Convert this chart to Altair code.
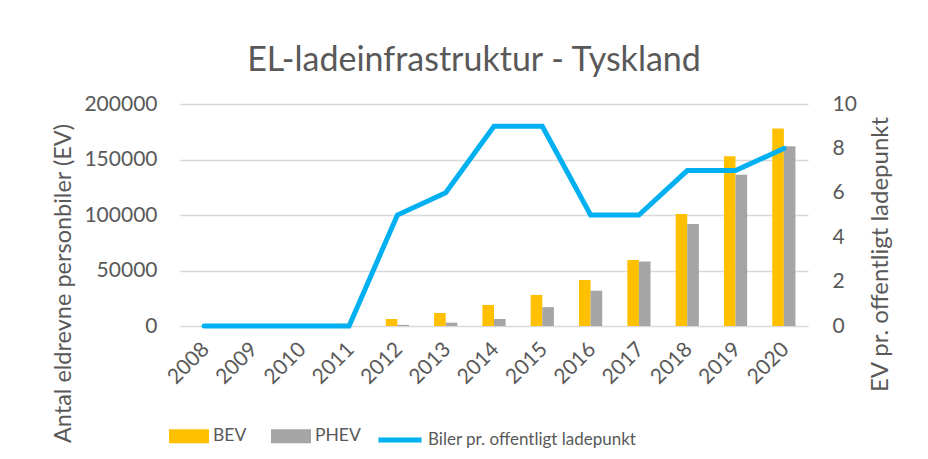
import altair as alt
import pandas as pd

years = ["2008", "2009", "2010", "2011", "2012", "2013", "2014",
         "2015", "2016", "2017", "2018", "2019", "2020"]
bev = [0, 0, 0, 2000, 6300, 11700, 19000, 28000, 41400, 59500, 101000, 152900, 178000]
phev = [0, 0, 0, 0, 1000, 3000, 6300, 17000, 31800, 58000, 92000, 136300, 162000]
per_point = [0, 0, 0, 0, 5, 6, 9, 9, 5, 5, 7, 7, 8]

series_names = ["BEV", "PHEV"]
line_name = "Biler pr. offentligt ladepunkt"
left_ticks = [0, 50000, 100000, 150000, 200000]
right_ticks = [0, 2, 4, 6, 8, 10]

bars_df = pd.DataFrame({
    "year": years * 2,
    "series": ["BEV"] * len(years) + ["PHEV"] * len(years),
    "value": bev + phev,
})
line_df = pd.DataFrame({"year": years, "ratio": per_point, "series": line_name})

FONT = "Lato"
TXT = "#595959"

x_enc = alt.X(
    "year:N", sort=years,
    scale=alt.Scale(paddingInner=0.52, paddingOuter=0.26),
    axis=alt.Axis(title=None, labelAngle=-45, labelAlign="right", labelBaseline="middle",
                  labelPadding=20, labelOffset=2, domain=False, ticks=False, labelFontSize=21,
                  labelColor=TXT, labelFont=FONT),
)

bars = alt.Chart(bars_df).mark_bar().encode(
    x=x_enc,
    xOffset=alt.XOffset("series:N", sort=series_names,
                        scale=alt.Scale(paddingInner=0, paddingOuter=0)),
    y=alt.Y("value:Q", scale=alt.Scale(domain=[0, 200000]),
            axis=alt.Axis(title="Antal  eldrevne personbiler (EV)", values=left_ticks, format="d",
                          grid=True, gridColor="#D9D9D9", gridWidth=1.5, domain=False, ticks=False,
                          labelPadding=23, labelFontSize=21, labelColor=TXT, labelFont=FONT,
                          titleFont=FONT, titleFontSize=23.5, titleColor=TXT, titleFontWeight="normal",
                          titleAngle=270, titleX=-117, titleY=179, titleAlign="center",
                          titleBaseline="middle")),
    color=alt.Color("series:N", sort=series_names,
                    scale=alt.Scale(domain=series_names, range=["#FFC000", "#A5A5A5"]),
                    legend=alt.Legend(title=None, orient="none", legendX=-11, legendY=312,
                                      direction="horizontal",
                                      symbolType="M-1,-0.35L1,-0.35L1,0.35L-1,0.35Z",
                                      symbolSize=1600, symbolStrokeWidth=0, labelOffset=4,
                                      columnPadding=24, labelFont=FONT, labelFontSize=17.5,
                                      labelColor=TXT)),
)

line = alt.Chart(line_df).mark_line(strokeWidth=5, strokeCap="round").encode(
    x=x_enc,
    y=alt.Y("ratio:Q", scale=alt.Scale(domain=[0, 10]),
            axis=alt.Axis(orient="right", title="EV pr. offentligt ladepunkt", values=right_ticks,
                          grid=False, domain=False, ticks=False, labelPadding=24,
                          labelFontSize=21, labelColor=TXT, labelFont=FONT,
                          titleFont=FONT, titleFontSize=24, titleColor=TXT, titleFontWeight="normal",
                          titleAngle=270, titleX=72, titleY=150, titleAlign="center",
                          titleBaseline="middle")),
    stroke=alt.Stroke("series:N",
                      scale=alt.Scale(domain=[line_name], range=["#00B0F0"]),
                      legend=alt.Legend(title=None, orient="none", legendX=196, legendY=312,
                                        direction="horizontal", symbolType="stroke",
                                        symbolSize=1849, symbolStrokeWidth=5, labelOffset=4,
                                        labelLimit=400, labelFont=FONT, labelFontSize=17,
                                        labelColor=TXT)),
)

chart = alt.layer(bars, line).resolve_scale(y="independent").properties(
    width=628, height=222,
    autosize=alt.AutoSizeParams(type="none"),
    padding={"left": 172, "top": 96, "right": 112, "bottom": 125},
    title=alt.Title("EL-ladeinfrastruktur - Tyskland", font=FONT, fontSize=34, color=TXT,
                    fontWeight="normal", anchor="middle", dx=-20, dy=33, baseline="alphabetic",
                    offset=21),
).configure_view(stroke=None)

chart.save("out.html", embed_options={"renderer": "svg", "actions": False})
